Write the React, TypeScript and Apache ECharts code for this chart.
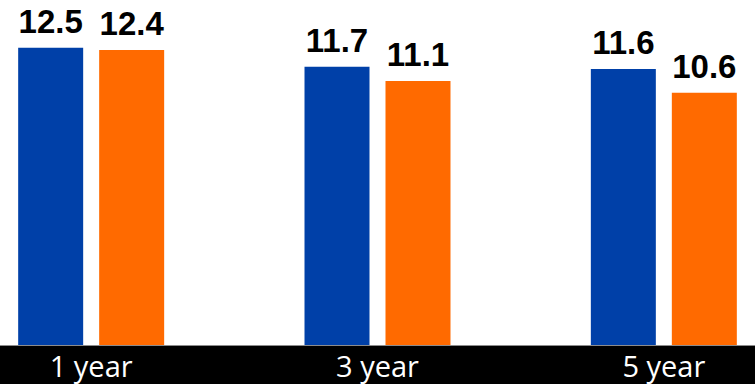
import React, { useEffect, useRef } from "react";
import * as echarts from "echarts";

const categories = ["1 year", "3 year", "5 year"];
const fundValues = [12.5, 11.7, 11.6];
const benchmarkValues = [12.4, 11.1, 10.6];

export default function App() {
  const ref = useRef<HTMLDivElement>(null);
  useEffect(() => {
    if (!ref.current) return;
    const chart = echarts.init(ref.current, null, { renderer: "svg" });
    const labelStyle = {
      show: true,
      position: "top",
      distance: 10,
      color: "#000",
      fontFamily: "Liberation Sans",
      fontWeight: "bold",
      fontSize: 33,
    };
    chart.setOption({
      animation: false,
      backgroundColor: "#fff",
      grid: { left: 0, right: 0, top: 12, bottom: 39, containLabel: false },
      graphic: {
        elements: [
          {
            type: "rect",
            z: 1,
            shape: { x: 0, y: 346, width: 859, height: 38 },
            style: { fill: "#000" },
          },
        ],
      },
      xAxis: {
        type: "category",
        data: categories,
        z: 10,
        axisLine: { show: true, lineStyle: { color: "#8c8c8c", width: 1 } },
        axisTick: { show: false },
        axisLabel: {
          color: "#fff",
          fontFamily: "Open Sans",
          fontSize: 29,
          margin: 6,
        },
      },
      yAxis: {
        type: "value",
        min: 0,
        max: 14,
        show: false,
        splitLine: { show: false },
      },
      series: [
        {
          name: "Fund",
          type: "bar",
          data: fundValues,
          barWidth: 65,
          barGap: "24.6%",
          itemStyle: { color: "#0040a8" },
          label: labelStyle,
        },
        {
          name: "Benchmark",
          type: "bar",
          data: benchmarkValues,
          barWidth: 65,
          itemStyle: { color: "#ff6a00" },
          label: labelStyle,
        },
      ],
    });
    return () => chart.dispose();
  }, []);
  return (
    <div style={{ position: "fixed", left: 0, top: 0, width: 755, height: 384, overflow: "hidden" }}>
      <div
        ref={ref}
        style={{ position: "absolute", left: -52, top: 0, width: 859, height: 384 }}
      />
    </div>
  );
}
